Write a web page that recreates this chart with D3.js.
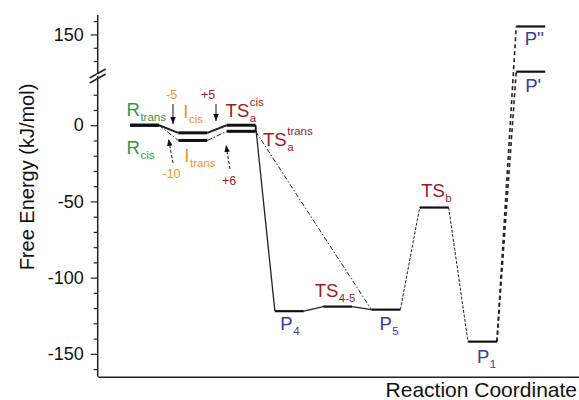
<!DOCTYPE html>
<html>
<head>
<meta charset="utf-8">
<script src="https://d3js.org/d3.v7.min.js"></script>
<style>
  body { margin: 0; background: #fff; }
  text { font-family: Arial, "Liberation Sans", sans-serif; }
</style>
</head>
<body>
<svg width="579" height="400"></svg>
<script>
// states on the energy profile
var stateNames  = ["R_trans", "R_cis", "I_cis", "I_trans", "TSa_cis", "TSa_trans",
                   "P4", "TS4-5", "P5", "TSb", "P1", "P'", "P''"];
var statePos    = [0, 0, 1, 1, 2, 2, 3, 4, 5, 6, 7, 8, 8];
var stateEnergy = [0, 0, -5, -10, 0, -4, -122, -119, -121, -54, -142, 122, 156];

// connections between states, with the pathway they belong to
var linkFrom = ["R_cis", "I_cis", "TSa_cis", "R_trans", "I_trans", "TSa_trans",
                "P4", "TS4-5", "P5", "TSb", "P1", "P1"];
var linkTo   = ["I_cis", "TSa_cis", "P4", "I_trans", "TSa_trans", "P5",
                "TS4-5", "P5", "TSb", "P1", "P'", "P''"];
var linkPath = ["cis", "cis", "drop", "trans", "trans", "trans",
                "main", "main", "side", "side", "up", "up"];

// y axis ticks
var lowTicks = d3.range(-160, 30, 10);
var highTicks = [130, 140, 150, 160];
var tickLabels = [150, 0, -50, -100, -150];

// energy difference annotations
var deltaText = ["-5", "+5", "-10", "+6"];

var svg = d3.select("svg");
var x0 = 97.7, xBottom = 376.7;

var x = d3.scaleLinear().domain([-0.67, 9.3]).range([x0, 579]);
var yLow = d3.scaleLinear().domain([-165, 30]).range([xBottom, 79.5]);
var yHigh = d3.scaleLinear().domain([118, 165]).range([77, 14.5]);
function y(v) { return v > 100 ? yHigh(v) : yLow(v); }

var colGreen = "#2f9a45", colOrange = "#f7941d", colRed = "#9b1c20", colBlue = "#3a3b9e";

var levelW = 0.6;
var states = {};
stateNames.forEach(function(n, i) {
  states[n] = { xs: x(statePos[i]), xe: x(statePos[i] + levelW), y: y(stateEnergy[i]) };
});

// markers
var defs = svg.append("defs");
defs.append("marker").attr("id", "arr")
  .attr("viewBox", "0 0 10 10").attr("refX", 10).attr("refY", 5)
  .attr("markerWidth", 7).attr("markerHeight", 7).attr("orient", "auto")
  .append("path").attr("d", "M0,1 L10,5 L0,9 Z").attr("fill", "#111");

// axes
function styleTicks(g) {
  g.select(".domain").remove();
  g.selectAll(".tick line").attr("stroke", "#222").attr("stroke-width", 1.2)
    .attr("x2", function(d) { return tickLabels.indexOf(d) >= 0 ? -7 : -4; });
  g.selectAll(".tick text").attr("font-size", "18px").attr("fill", "#111")
    .attr("x", -14)
    .text(function(d) { return tickLabels.indexOf(d) >= 0 ? d : ""; });
}
svg.append("g").attr("transform", "translate(" + x0 + ",0)")
  .call(d3.axisLeft(yLow).tickValues(lowTicks).tickFormat(d3.format("d")))
  .call(styleTicks);
svg.append("g").attr("transform", "translate(" + x0 + ",0)")
  .call(d3.axisLeft(yHigh).tickValues(highTicks).tickFormat(d3.format("d")))
  .call(styleTicks);

svg.append("line").attr("x1", x0).attr("x2", x0).attr("y1", 15).attr("y2", xBottom)
  .attr("stroke", "#222").attr("stroke-width", 1.5);
svg.append("g").attr("transform", "translate(0," + xBottom + ")")
  .call(d3.axisBottom(x).tickValues([]).tickSizeOuter(0))
  .select(".domain").attr("stroke", "#222").attr("stroke-width", 1.5);

// axis break
[0, 5].forEach(function(o) {
  svg.append("line").attr("x1", x0 - 8).attr("y1", 80 + o - 2).attr("x2", x0 + 8).attr("y2", 71 + o - 2)
    .attr("stroke", "#222").attr("stroke-width", 1.5);
});
svg.append("line").attr("x1", x0).attr("x2", x0).attr("y1", 74).attr("y2", 76)
  .attr("stroke", "#fff").attr("stroke-width", 2);

// axis titles
svg.append("text").attr("transform", "translate(34,177) rotate(-90)")
  .attr("text-anchor", "middle").attr("font-size", "20px").attr("fill", "#111")
  .text("Free Energy (kJ/mol)");
svg.append("text").attr("x", 577).attr("y", 397).attr("text-anchor", "end")
  .attr("font-size", "21px").attr("fill", "#111").text("Reaction Coordinate");

// connectors
var linkStyle = {
  cis:   { w: 2,   dash: null },
  trans: { w: 1,   dash: "5,2,1.5,2" },
  drop:  { w: 1.3, dash: null },
  main:  { w: 1.2, dash: null },
  side:  { w: 1,   dash: "3,1.5" },
  up:    { w: 1.6, dash: "4,3" }
};
linkFrom.forEach(function(f, i) {
  var a = states[f], b = states[linkTo[i]], s = linkStyle[linkPath[i]];
  svg.append("line").attr("x1", a.xe).attr("y1", a.y).attr("x2", b.xs).attr("y2", b.y)
    .attr("stroke", "#222").attr("stroke-width", s.w)
    .attr("stroke-dasharray", s.dash);
});

// levels
stateNames.forEach(function(n, i) {
  var s = states[n];
  var thick = statePos[i] <= 2 ? 3 : 2.2;
  svg.append("line").attr("x1", s.xs).attr("x2", s.xe).attr("y1", s.y).attr("y2", s.y)
    .attr("stroke", "#111").attr("stroke-width", thick);
});
// closing edge of TSa pair
svg.append("line").attr("x1", states["TSa_cis"].xe).attr("x2", states["TSa_cis"].xe)
  .attr("y1", states["TSa_cis"].y).attr("y2", states["TSa_trans"].y)
  .attr("stroke", "#111").attr("stroke-width", 1.5);

// state labels
function label(px, py, main, sub, sup, color) {
  var t = svg.append("text").attr("x", px).attr("y", py).attr("font-size", "18.5px")
    .attr("fill", color).text(main);
  var w = t.node().getComputedTextLength();
  if (sub) svg.append("text").attr("x", px + w + 0.5).attr("y", py + 5)
    .attr("font-size", "11.5px").attr("fill", color).text(sub);
  if (sup) svg.append("text").attr("x", px + w + 0.5).attr("y", py - 11)
    .attr("font-size", "11.5px").attr("fill", color).text(sup);
}
var st = states;
label(st["R_trans"].xs - 3.5, st["R_trans"].y - 9, "R", "trans", null, colGreen);
label(st["R_cis"].xs - 3.5, st["R_cis"].y + 29, "R", "cis", null, colGreen);
label(st["I_cis"].xs + 5, st["I_cis"].y - 15, "I", "cis", null, colOrange);
label(st["I_trans"].xs + 6, st["I_trans"].y + 21.5, "I", "trans", null, colOrange);
label(st["TSa_cis"].xs - 1, st["TSa_cis"].y - 8.5, "TS", "a", "cis", colRed);
label(st["TSa_trans"].xe + 7.5, st["TSa_trans"].y + 15, "TS", "a", "trans", colRed);
label(st["P4"].xs + 5.5, st["P4"].y + 18.5, "P", "4", null, colBlue);
label(st["TS4-5"].xs - 8.5, st["TS4-5"].y - 9.5, "TS", "4-5", null, colRed);
label(st["P5"].xs + 8, st["P5"].y + 20.5, "P", "5", null, colBlue);
label(st["TSb"].xs + 1.5, st["TSb"].y - 11, "TS", "b", null, colRed);
label(st["P1"].xs + 9, st["P1"].y + 21, "P", "1", null, colBlue);
label(st["P''"].xs + 8.5, st["P''"].y + 19, "P''", null, null, colBlue);
label(st["P'"].xs + 9, st["P'"].y + 20, "P'", null, null, colBlue);

// delta annotations with arrows
var dColors = [colOrange, colRed, colOrange, colRed];
var dText = [[166, 99], [201, 99], [162.5, 177.5], [222, 185]];
var dArrow = [[173, 104, 173, 124], [216, 104, 216, 121], [173, 163, 168.5, 139], [230, 169, 226, 145]];
var dDash = [null, null, "3,2", "3,2"];
deltaText.forEach(function(t, i) {
  svg.append("text").attr("x", dText[i][0]).attr("y", dText[i][1])
    .attr("font-size", "12.5px").attr("fill", dColors[i]).text(t);
  var a = dArrow[i];
  svg.append("line").attr("x1", a[0]).attr("y1", a[1]).attr("x2", a[2]).attr("y2", a[3])
    .attr("stroke", "#111").attr("stroke-width", 1)
    .attr("stroke-dasharray", dDash[i]).attr("marker-end", "url(#arr)");
});
</script>
</body>
</html>
